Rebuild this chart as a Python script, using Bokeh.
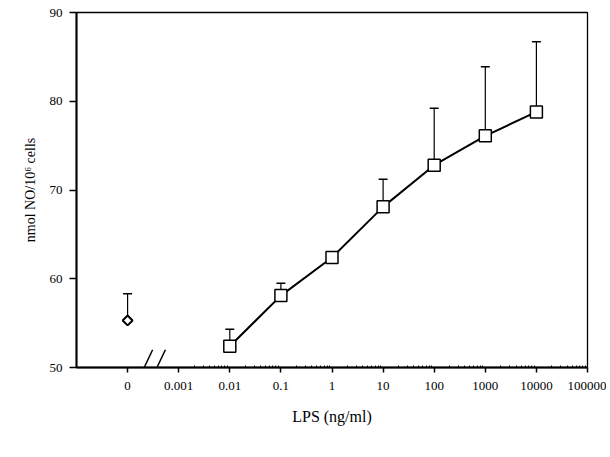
import numpy as np
from bokeh.plotting import figure
from bokeh.models import FixedTicker, Range1d, PolyAnnotation
from bokeh.embed import file_html
from bokeh.resources import INLINE

# ---- data ----
lps = [0.01, 0.1, 1, 10, 100, 1000, 10000]          # ng/ml
no_mean = [52.4, 58.1, 62.4, 68.1, 72.8, 76.1, 78.8]  # nmol NO / 10^6 cells
no_sd = [1.9, 1.4, 0.0, 3.1, 6.4, 7.8, 7.9]
ctrl_mean = [55.3]
ctrl_sd = [3.0]
x_tick_labels = ["0", "0.001", "0.01", "0.1", "1", "10", "100", "1000", "10000", "100000"]
y_ticks = [50, 60, 70, 80, 90]

# axis layout: "0" is placed one decade left of 0.001 (broken axis)
zero_pos = -4.0
decades = list(range(-3, 6))
x_lo, x_hi = -5.0, 5.0
y_lo, y_hi = 50.0, 90.0

x = np.log10(lps)
up = [m + s for m, s in zip(no_mean, no_sd)]

FONT = "Liberation Serif"

p = figure(width=606, height=452, output_backend="svg", toolbar_location=None,
           x_range=Range1d(x_lo, x_hi), y_range=Range1d(y_lo, y_hi),
           min_border_left=76, min_border_right=19, min_border_top=12, min_border_bottom=85)
p.background_fill_color = "white"
p.border_fill_color = "white"
p.outline_line_color = "black"
p.outline_line_width = 1.3
p.xgrid.visible = False
p.ygrid.visible = False

# x axis
ticks = [zero_pos] + decades
minor = [d + np.log10(k) for d in decades[:-1] for k in range(2, 10)]
p.xaxis.ticker = FixedTicker(ticks=ticks, minor_ticks=minor)
p.xaxis.major_label_overrides = {t: lab for t, lab in zip(ticks, x_tick_labels)}
p.xaxis.axis_label = "LPS (ng/ml)"
p.xaxis.axis_label_standoff = 15
p.xaxis.axis_label_text_font = FONT
p.xaxis.axis_label_text_font_style = "normal"
p.xaxis.axis_label_text_font_size = "16px"
p.xaxis.axis_label_text_color = "black"
p.xaxis.major_label_text_font = FONT
p.xaxis.major_label_text_font_size = "13px"
p.xaxis.major_label_text_color = "black"
p.xaxis.major_label_standoff = 9
p.xaxis.major_tick_out = 5
p.xaxis.major_tick_in = 0
p.xaxis.minor_tick_out = 0
p.xaxis.minor_tick_in = 2
p.xaxis.axis_line_width = 2
p.xaxis.major_tick_line_width = 1.5

# y axis
p.yaxis.ticker = FixedTicker(ticks=y_ticks, minor_ticks=[])
p.yaxis.axis_label = "nmol NO/10\u2076 cells"
p.yaxis.axis_label_standoff = 9
p.yaxis.axis_label_text_font = FONT
p.yaxis.axis_label_text_font_style = "normal"
p.yaxis.axis_label_text_font_size = "14px"
p.yaxis.axis_label_text_color = "black"
p.yaxis.major_label_text_font = FONT
p.yaxis.major_label_text_font_size = "13px"
p.yaxis.major_label_text_color = "black"
p.yaxis.major_label_standoff = 7
p.yaxis.major_tick_out = 7
p.yaxis.major_tick_in = 0
p.yaxis.axis_line_width = 2
p.yaxis.major_tick_line_width = 1.5

# error bars (upper only)
p.segment(x0=x, y0=no_mean, x1=x, y1=up, line_color="black", line_width=1.2)
p.scatter(x=x, y=up, marker="dash", size=9, line_color="black", line_width=1.5)
p.segment(x0=[zero_pos], y0=ctrl_mean, x1=[zero_pos],
          y1=[ctrl_mean[0] + ctrl_sd[0]], line_color="black", line_width=1.2)
p.scatter(x=[zero_pos], y=[ctrl_mean[0] + ctrl_sd[0]], marker="dash", size=9,
          line_color="black", line_width=1.5)

# dose-response line and markers
p.line(x=x, y=no_mean, line_color="black", line_width=2)
p.scatter(x=x, y=no_mean, marker="square", size=12, fill_color="white",
          line_color="black", line_width=1.5)
p.scatter(x=[zero_pos], y=ctrl_mean, marker="square", angle=np.pi / 4, size=7,
          fill_color="white", line_color="black", line_width=2)

# axis break marks
for x0 in (-3.75, -3.5):
    p.add_layout(PolyAnnotation(xs=[x0, x0 + 0.24], ys=[y_lo - 0.9, y_lo + 2.0],
                                line_color="black", line_alpha=1.0, line_width=1.5,
                                fill_alpha=0, fill_color=None))

open("out.html", "w").write(file_html(p, INLINE))
